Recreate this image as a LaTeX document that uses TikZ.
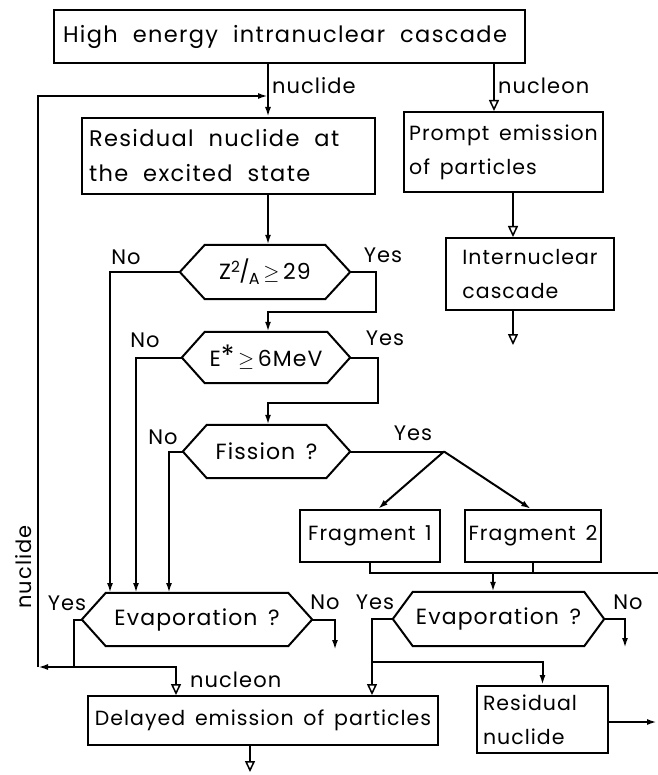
\documentclass[tikz,border=0pt]{standalone}
\usepackage{fontspec}
\setmainfont{Poppins}[LetterSpace=5,WordSpace=1.5]
\newfontfamily\widefont{Poppins}[LetterSpace=6]
\usetikzlibrary{arrows.meta}
\tikzset{
  line/.style={line width=2pt},
  arr/.style={line, -{Latex[length=10pt,width=6pt]}},
  otri/.style={line, -{Triangle[open,length=11pt,width=10pt,line width=1.5pt]}},
  boxn/.style={draw, line width=2pt, inner sep=0pt, align=left, font=\fontsize{20.5}{34}\selectfont},
  widebox/.style={boxn, inner xsep=7pt, font=\widefont\fontsize{22.5}{35}\selectfont},
  hexn/.style={inner sep=0pt, font=\fontsize{22}{34}\selectfont},
  lab/.style={inner sep=0pt, font=\fontsize{21}{24}\selectfont},
}
\newcommand\wsp{\hspace{15pt}}
\newcommand\hexout[2]{\draw[line] (#1.west) -- ([xshift=#2]#1.north west) -- ([xshift=-#2]#1.north east) -- (#1.east) -- ([xshift=-#2]#1.south east) -- ([xshift=#2]#1.south west) -- cycle;}
\begin{document}
\begin{tikzpicture}[x=1pt,y=-1pt]
\useasboundingbox (0,0) rectangle (657,775);
% boxes
\node[widebox, inner xsep=9pt, text width=453, minimum height=53] (top) at (289.5,36.5) {High\wsp energy\wsp intranuclear\wsp cascade};
\node[widebox, text width=279, minimum height=76] (res) at (228.5,156) {Residual\wsp nuclide\wsp at\\the\wsp excited\wsp state};
\node[boxn, minimum width=199, minimum height=80] (prompt) at (503.5,152) {Prompt emission\\of particles};
\node[boxn, minimum width=168, minimum height=72] (inter) at (530,274) {Internuclear\\cascade};
\node[hexn, minimum width=170, minimum height=54] (hz) at (265,272) {Z\textsuperscript{2}\kern-1pt/\kern-1pt\raisebox{-0.4ex}{\fontsize{16}{16}\selectfont A}\,$\geq$\,29};
\node[hexn, minimum width=168, minimum height=51] (he) at (266,357.5) {E\raisebox{0.1ex}{\fontsize{28}{28}\selectfont *}\,$\geq$\,6\kern1pt MeV};
\node[hexn, minimum width=167, minimum height=53] (hf) at (266.5,451.5) {Fission ?};
\node[boxn, minimum width=140, minimum height=52] (f1) at (370,536) {Fragment 1};
\node[boxn, minimum width=136, minimum height=52] (f2) at (533,536) {Fragment 2};
\node[hexn, minimum width=230, minimum height=53] (ev1) at (197,619.5) {Evaporation ?};
\node[hexn, minimum width=211, minimum height=54] (ev2) at (498.5,619) {Evaporation ?};
\node[boxn, minimum width=350, minimum height=49] (del) at (263,720.5) {Delayed emission of particles};
\node[boxn, inner xsep=6pt, text width=119, minimum height=67] (rn) at (542.5,719.5) {Residual\\nuclide};
\hexout{hz}{25}
\hexout{he}{23}
\hexout{hf}{24}
\hexout{ev1}{24}
\hexout{ev2}{20}
% coordinates
\coordinate (jN) at (268,96);
\coordinate (lpB) at (38,667);
\coordinate (y1) at (74,667);
\coordinate (dc) at (176,667);
\coordinate (nR) at (494,96);
\coordinate (pI) at (513,200);
\coordinate (pIe) at (513,345);
\coordinate (zy) at (376,312);
\coordinate (ey) at (378,403);
\coordinate (zn) at (110,593);
\coordinate (en) at (136,593);
\coordinate (fn) at (169,593);
\coordinate (fy) at (444,451.5);
\coordinate (bus) at (660,573);
\coordinate (bx) at (493,573);
\coordinate (n1) at (335,650);
\coordinate (n2) at (625,648);
\coordinate (y2) at (372,662);
\coordinate (outR) at (657,722);
\coordinate (dB) at (250,772);
% connectors
\draw[arr] (top.south -| jN) -- (res.north -| jN);
\draw[otri] (top.south -| nR) -- (prompt.north -| nR);
\draw[otri] (prompt.south -| pI) -- (inter.north -| pI);
\draw[otri] (inter.south -| pI) -- (pIe);
\draw[arr] (res.south -| jN) -- (hz.north -| jN);
\draw[arr] (hz.east) -| (zy) -| (he.north -| jN);
\draw[arr] (he.east) -| (ey) -| (hf.north -| jN);
\draw[arr] (hz.west) -| (zn);
\draw[arr] (he.west) -| (en);
\draw[arr] (hf.west) -| (fn);
\draw[line] (hf.east) -- (fy);
\draw[arr] (fy) -- ([xshift=8]f1.north);
\draw[arr] (fy) -- ([xshift=-2]f2.north);
\draw[line] (f1.south) |- (bus);
\draw[line] (f2.south) -- (f2.south |- bus);
\draw[arr] (bx) -- (bx |- ev2.north);
\draw[arr] (ev1.east) -| (n1);
\draw[arr] (ev2.east) -| (n2);
\draw[line] (ev1.west) -| (y1);
\draw[arr] (y1) -- (lpB);
\draw[arr] (lpB) |- (jN);
\draw[otri] (y1) -- (dc) -- (dc |- del.north);
\draw[arr] (ev2.west) -| (y2) -| (rn.north);
\draw[otri] (y2) -- (y2 |- del.north);
\draw[arr] (rn.east |- outR) -- (outR);
\draw[otri] (del.south -| dB) -- (dB);
% labels
\node[lab, anchor=west] (lnuc1) at (272,86) {nuclide};
\node[lab, anchor=west] (lnuc2) at (498,86) {nucleon};
\node[lab] (lno1) at (126,257) {No};
\node[lab] (lyes1) at (383,255) {Yes};
\node[lab] (lno2) at (145,340) {No};
\node[lab] (lyes2) at (385,338) {Yes};
\node[lab] (lno3) at (163,437) {No};
\node[lab] (lyes3) at (413,433) {Yes};
\node[lab] (lyes4) at (67,603) {Yes};
\node[lab] (lno4) at (325,602) {No};
\node[lab] (lyes5) at (375,602) {Yes};
\node[lab] (lno5) at (628,602) {No};
\node[lab, anchor=west] (lnuc3) at (190,680) {nucleon};
\node[lab, rotate=90] (lnuc4) at (24,567) {nuclide};
\end{tikzpicture}
\end{document}
